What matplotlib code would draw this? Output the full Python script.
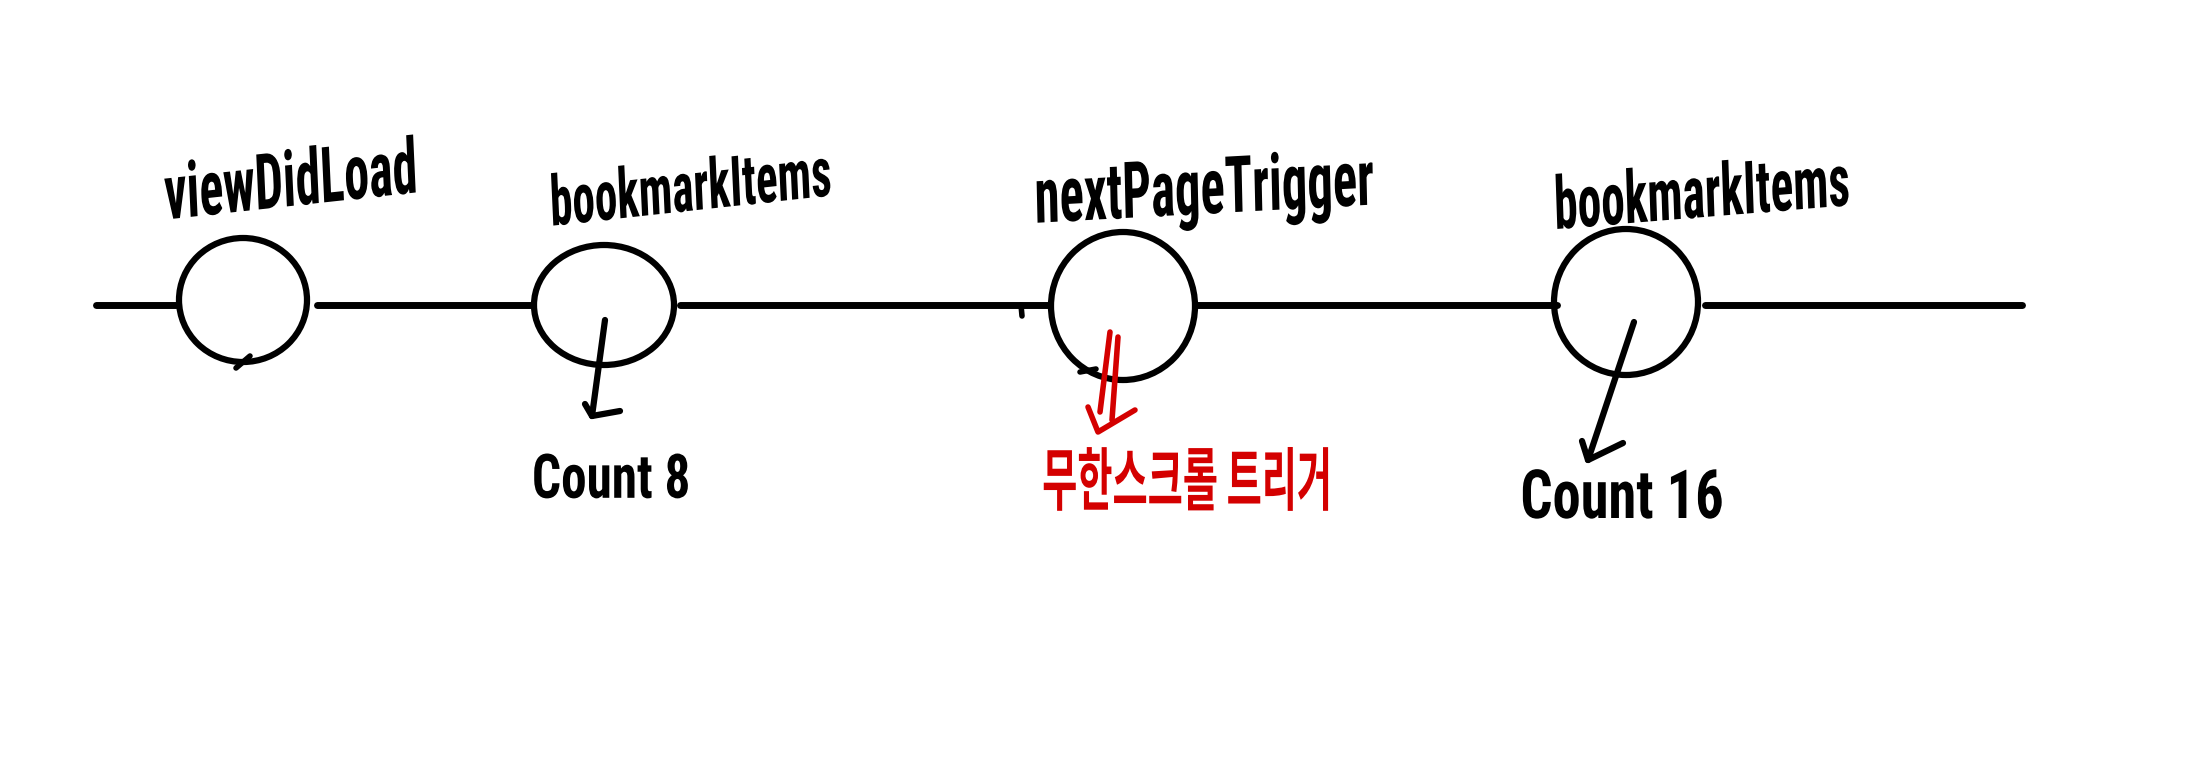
import matplotlib
matplotlib.use("Agg")
import matplotlib.pyplot as plt
from matplotlib.patches import Ellipse
from matplotlib import font_manager
from matplotlib.patheffects import AbstractPathEffect
from matplotlib.transforms import Affine2D

# ---------------- data ----------------
node_labels = ["viewDidLoad", "bookmarkItems", "nextPageTrigger", "bookmarkItems"]
note_labels = ["", "Count 8", "무한스크롤 트리거", "Count 16"]
note_colors = ["black", "black", "#d40000", "black"]

# ---------------- layout (pixel space of the 2209x761 canvas) ----------------
W, H = 2209, 761
node_cx = [243, 604, 1123, 1626]
node_cy = [300, 305, 306, 302]
node_rx = [64, 70, 72, 72]
node_ry = [62, 60, 74, 73]
label_pos = [(291, 185), (691, 192), (1204, 192), (1702, 197)]
label_w = [253, 282, 339, 296]
label_rot = [4, 4, 2, 3]
note_pos = [None, (611, 481), (1187, 484), (1622, 500)]
note_w = [0, 158, 290, 203]
timeline_y = 305
timeline_segments = [(96, 176), (317, 533), (680, 1050), (1195, 1557), (1705, 2022)]

available = {f.name for f in font_manager.fontManager.ttflist}
latin_font = "DejaVu Sans"
for cand in ["Liberation Sans Narrow", "DejaVu Sans Condensed", "Roboto Condensed", "Open Sans Condensed"]:
    if cand in available:
        latin_font = cand
        break
korean_font = ["Noto Sans CJK KR", "DejaVu Sans"]

fig = plt.figure(figsize=(W / 100, H / 100), dpi=100)
ax = fig.add_axes([0, 0, 1, 1])
ax.set_xlim(0, W)
ax.set_ylim(H, 0)
ax.axis("off")

renderer = fig.canvas.get_renderer()


class VStretch(AbstractPathEffect):
    """Stretch glyph outlines vertically about the text anchor (handwritten look)."""

    def __init__(self, anchor, sy):
        super().__init__()
        self.anchor = anchor
        self.sy = sy

    def draw_path(self, renderer, gc, tpath, affine, rgbFace=None):
        cx, cy = ax.transData.transform(self.anchor)
        extra = Affine2D().translate(-cx, -cy).scale(1.0, self.sy).translate(cx, cy)
        renderer.draw_path(gc, tpath, affine + extra, rgbFace)


def fit_text(x, y, s, width, family, color="black", rotation=0, sy=1.0):
    t = ax.text(x, y, s, ha="center", va="center", fontsize=40, family=family,
                fontweight="bold", color=color)
    bb = t.get_window_extent(renderer=renderer)
    t.set_fontsize(40 * width / bb.width)
    t.set_rotation(rotation)
    t.set_rotation_mode("anchor")
    t.set_path_effects([VStretch((x, y), sy)])
    return t


lw_line = 5.0
# timeline
for x0, x1 in timeline_segments:
    ax.plot([x0, x1], [timeline_y, timeline_y], color="black", lw=lw_line,
            solid_capstyle="round")
# small stroke tick near third node
ax.plot([1021, 1022], [305, 316], color="black", lw=4, solid_capstyle="round")

# nodes
for cx, cy, rx, ry in zip(node_cx, node_cy, node_rx, node_ry):
    ax.add_patch(Ellipse((cx, cy), 2 * rx, 2 * ry, fill=False, ec="black", lw=4.5))
# hand-drawn overlaps at stroke ends
ax.plot([236, 250], [368, 356], color="black", lw=4, solid_capstyle="round")
ax.plot([1080, 1096], [372, 369], color="black", lw=4, solid_capstyle="round")

# node labels
for (x, y), s, w, r in zip(label_pos, node_labels, label_w, label_rot):
    fit_text(x, y, s, w, [latin_font, "DejaVu Sans"], rotation=r, sy=1.55)

# arrows from nodes to notes (black)
ax.plot([605, 592], [320, 416], color="black", lw=4.5, solid_capstyle="round")
ax.plot([585, 592, 620], [404, 416, 411], color="black", lw=4.5,
        solid_capstyle="round", solid_joinstyle="round")
ax.plot([1634, 1588], [322, 460], color="black", lw=4.5, solid_capstyle="round")
ax.plot([1582, 1588, 1623], [441, 460, 443], color="black", lw=4.5,
        solid_capstyle="round", solid_joinstyle="round")

# red double arrow
red = "#d40000"
ax.plot([1110, 1100], [332, 412], color=red, lw=4, solid_capstyle="round")
ax.plot([1118, 1112], [337, 420], color=red, lw=4, solid_capstyle="round")
ax.plot([1088, 1098, 1135], [407, 432, 410], color=red, lw=4,
        solid_capstyle="round", solid_joinstyle="round")

# notes
for pos, s, w, c in zip(note_pos, note_labels, note_w, note_colors):
    if not s:
        continue
    if c == red:
        fit_text(pos[0], pos[1], s, w, korean_font, color=c, sy=1.8)
    else:
        fit_text(pos[0], pos[1], s, w, [latin_font, "DejaVu Sans"], color=c, sy=1.2)

fig.savefig("out.png", dpi=100, facecolor="white")
